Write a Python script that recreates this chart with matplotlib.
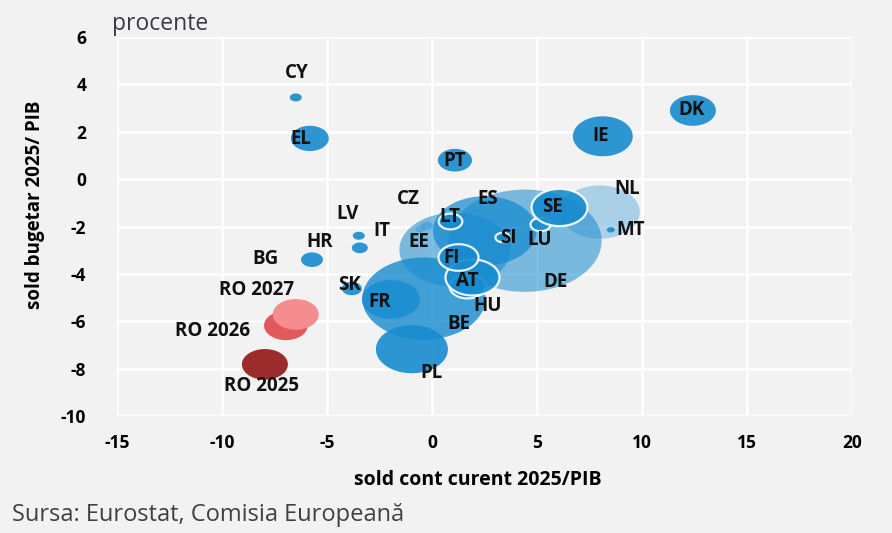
import numpy as np
import matplotlib
matplotlib.use("Agg")
import matplotlib.pyplot as plt
from matplotlib.path import Path

plt.rcParams['font.family'] = ['Open Sans', 'DejaVu Sans']
plt.rcParams['axes.unicode_minus'] = False

# date: sold cont curent (x), sold bugetar (y), marime bula (pondere PIB, unitati relative)
tari = ['DE', 'IT', 'ES', 'NL', 'FR', 'BE', 'PL', 'IE', 'DK', 'EL', 'PT', 'CY',
        'MT', 'EE', 'CZ', 'LV', 'HR', 'BG', 'SK', 'HU', 'AT', 'FI', 'LT', 'SI',
        'LU', 'SE', 'RO 2026', 'RO 2027', 'RO 2025']
sold_cont = [4.43, 1.10, 2.52, 8.00, -0.38, -1.95, -0.95, 8.14, 12.43, -5.81, 1.10, -6.48,
             8.52, -0.55, -0.24, -3.48, -3.43, -5.71, -3.81, 1.67, 1.90, 1.24, 0.86, 3.33,
             5.14, 6.05, -6.95, -6.48, -7.95]
sold_buget = [-2.60, -2.98, -2.18, -1.39, -5.04, -5.08, -7.18, 1.81, 2.90, 1.72, 0.80, 3.45,
              -2.14, -2.10, -1.97, -2.39, -2.90, -3.40, -4.62, -4.50, -4.12, -3.28, -1.76, -2.44,
              -1.89, -1.18, -6.18, -5.71, -7.82]
pondere = [59, 31, 27, 16, 38, 8.4, 13, 9.0, 5.3, 3.6, 2.9, 0.36,
           0.16, 0.25, 0.36, 0.36, 0.64, 1.2, 1.0, 3.2, 7.3, 4.0, 1.4, 0.5,
           1.0, 7.8, 4.8, 5.3, 5.3]

# pozitia etichetelor (in unitatile axelor)
eticheta_x = [5.90, -2.38, 2.67, 9.29, -2.48, 1.29, 0.0, 8.05, 12.38, -6.24, 1.10, -6.43,
              9.48, -0.62, -1.14, -4.00, -5.33, -7.90, -3.90, 2.67, 1.67, 0.95, 0.86, 3.62,
              5.14, 5.76, -10.43, -8.33, -8.10]
eticheta_y = [-4.33, -2.18, -0.84, -0.42, -5.17, -6.13, -8.19, 1.81, 2.90, 1.68, 0.76, 4.50,
              -2.14, -2.65, -0.84, -1.47, -2.65, -3.36, -4.45, -5.34, -4.29, -3.32, -1.60, -2.48,
              -2.56, -1.18, -6.43, -4.66, -8.74]

albastru = '#168bcf'
culori = {'RO 2025': '#9c2b2b', 'RO 2026': '#e2595c', 'RO 2027': '#f58d8f'}
transparenta = {'DE': 0.55, 'IT': 0.55, 'ES': 0.72, 'NL': 0.33, 'FR': 0.8, 'BE': 0.8,
                'EE': 0.35, 'CZ': 0.4}
contur_alb = {'SE', 'LU', 'SI', 'LT', 'FI', 'AT', 'HU'}

# marker eliptic (imaginea originala e intinsa pe orizontala)
t = np.linspace(0, 2 * np.pi, 80)
elipsa = Path(np.column_stack([1.5 * np.cos(t), np.sin(t)]), closed=True)

fig = plt.figure(figsize=(8.92, 5.33), dpi=100, facecolor='#f2f2f2')
ax = fig.add_axes([0.131, 0.2195, 0.824, 0.711])
ax.set_facecolor('#f2f2f2')

for i, tara in enumerate(tari):
    culoare = culori.get(tara, albastru)
    alfa = transparenta.get(tara, 0.9)
    if tara.startswith('RO'):
        alfa = 1.0
    ec = 'white' if tara in contur_alb else 'none'
    lw = 1.6 if tara in contur_alb else 0
    ax.scatter(sold_cont[i], sold_buget[i], s=207 * pondere[i], marker=elipsa,
               color=culoare, alpha=alfa, edgecolors=ec, linewidths=lw, zorder=3 + i * 0.01)
    ax.text(eticheta_x[i], eticheta_y[i], tara, ha='center', va='center',
            fontsize=13.5, fontweight='bold', color='#111111', zorder=10)

ax.set_xlim(-15, 20)
ax.set_ylim(-10, 6)
ax.set_xticks(np.arange(-15, 21, 5))
ax.set_yticks(np.arange(-10, 7, 2))
ax.grid(True, color='white', linewidth=1.8, zorder=0)
ax.set_axisbelow(True)
for sp in ax.spines.values():
    sp.set_visible(False)
ax.tick_params(length=0, labelsize=12.5)
ax.tick_params(axis='x', pad=13)
ax.tick_params(axis='y', pad=22)
for lab in ax.get_xticklabels() + ax.get_yticklabels():
    lab.set_fontweight('bold')

ax.set_xlabel('sold cont curent 2025/PIB', fontsize=14, fontweight='bold')
ax.set_ylabel('sold bugetar 2025/ PIB', fontsize=13.5, fontweight='bold')
ax.xaxis.set_label_coords(0.491, -0.142)
ax.yaxis.set_label_coords(-0.098, 0.557)

fig.text(112 / 892, 1 - 24 / 533, 'procente', fontsize=16.5, color='#3a3a48', va='center')
fig.text(12 / 892, 1 - 515 / 533, 'Sursa: Eurostat, Comisia Europeană', fontsize=17,
         color='#404040', va='center')

fig.savefig('out.png', dpi=100, facecolor=fig.get_facecolor())
